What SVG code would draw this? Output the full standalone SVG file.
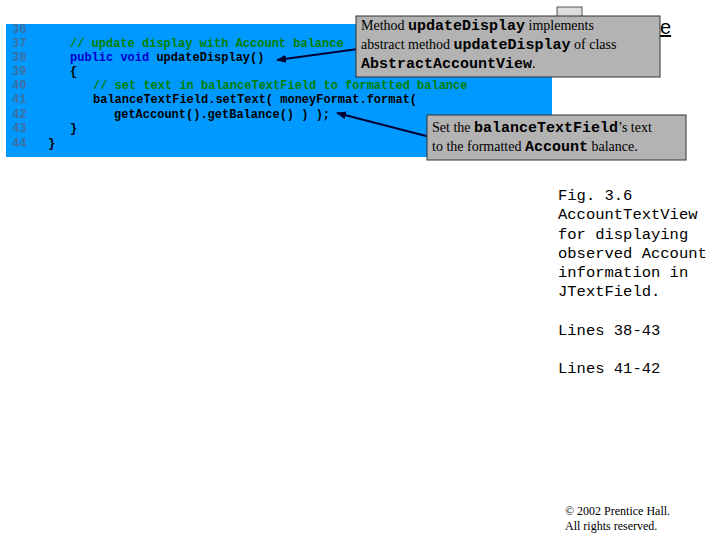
<svg xmlns="http://www.w3.org/2000/svg" width="720" height="540" viewBox="0 0 720 540">
<defs>
<marker id="ah" markerWidth="10" markerHeight="8" refX="9" refY="4" orient="auto" markerUnits="userSpaceOnUse"><path d="M0,0 L10,4 L0,8 Z" fill="#000033"/></marker>
</defs>
<style>
.code{font-family:"Liberation Mono",monospace;font-size:12px;font-weight:bold;}
.ln{fill:#3f6f9f;}
.c{fill:#008000;}
.k{fill:#0000cc;}
.t{fill:#000;}
.co{fill:#b3b3b3;stroke:#333;stroke-width:1;}
.ct{font-family:"Liberation Serif",serif;font-size:14px;}
.cm{font-family:"Liberation Mono",monospace;font-weight:bold;font-size:15px;}
.side{font-family:"Liberation Mono",monospace;font-size:15.5px;}
.cp{font-family:"Liberation Serif",serif;font-size:12px;}
</style>
<rect width="720" height="540" fill="#fff"/>
<g id="outline">
<rect x="557" y="7" width="25" height="15" fill="#ddd" stroke="#555"/>
<text x="660" y="34" font-family="Liberation Sans,sans-serif" font-size="20" text-decoration="underline">e</text>
</g>
<g id="code">
<rect x="6" y="24" width="546" height="133" fill="#0099ff"/>
<text class="code ln" x="12" y="33">36</text>
<text class="code" x="12" y="47"><tspan class="ln">37</tspan><tspan class="c" x="70">// update display with Account balance</tspan></text>
<text class="code" x="12" y="61"><tspan class="ln">38</tspan><tspan class="k" x="70">public void</tspan><tspan class="t"> updateDisplay()</tspan></text>
<text class="code" x="12" y="75"><tspan class="ln">39</tspan><tspan class="t" x="70">{</tspan></text>
<text class="code" x="12" y="89"><tspan class="ln">40</tspan><tspan class="c" x="93">// set text in balanceTextField to formatted balance</tspan></text>
<text class="code" x="12" y="103"><tspan class="ln">41</tspan><tspan class="t" x="93">balanceTextField.setText( moneyFormat.format(</tspan></text>
<text class="code" x="12" y="118"><tspan class="ln">42</tspan><tspan class="t" x="114">getAccount().getBalance() ) );</tspan></text>
<text class="code" x="12" y="132"><tspan class="ln">43</tspan><tspan class="t" x="70">}</tspan></text>
<text class="code" x="12" y="147"><tspan class="ln">44</tspan><tspan class="t" x="48">}</tspan></text>
</g>
<g id="connectors" stroke="#000033" stroke-width="2" fill="none">
<line x1="358" y1="49" x2="277" y2="60" marker-end="url(#ah)"/>
<line x1="430" y1="137" x2="337" y2="113" marker-end="url(#ah)"/>
</g>
<g id="callout1">
<rect class="co" x="356" y="16" width="304" height="61"/>
<text class="ct" x="361" y="30">Method <tspan class="cm">updateDisplay</tspan> implements</text>
<text class="ct" x="361" y="49">abstract method <tspan class="cm">updateDisplay</tspan> of class</text>
<text class="ct" x="361" y="68"><tspan class="cm">AbstractAccountView</tspan>.</text>
</g>
<g id="callout2">
<rect class="co" x="427" y="115" width="259" height="45"/>
<text class="ct" x="432" y="132">Set the <tspan class="cm">balanceTextField</tspan>’s text</text>
<text class="ct" x="432" y="151">to the formatted <tspan class="cm">Account</tspan> balance.</text>
</g>
<g id="sidebar">
<text class="side" x="558" y="200">Fig. 3.6</text>
<text class="side" x="558" y="219">AccountTextView</text>
<text class="side" x="558" y="239">for displaying</text>
<text class="side" x="558" y="258">observed Account</text>
<text class="side" x="558" y="277">information in</text>
<text class="side" x="558" y="296">JTextField.</text>
<text class="side" x="558" y="335">Lines 38-43</text>
<text class="side" x="558" y="373">Lines 41-42</text>
</g>
<g id="copyright">
<text class="cp" x="565" y="515">© 2002 Prentice Hall.</text>
<text class="cp" x="565" y="530">All rights reserved.</text>
</g>
</svg>
